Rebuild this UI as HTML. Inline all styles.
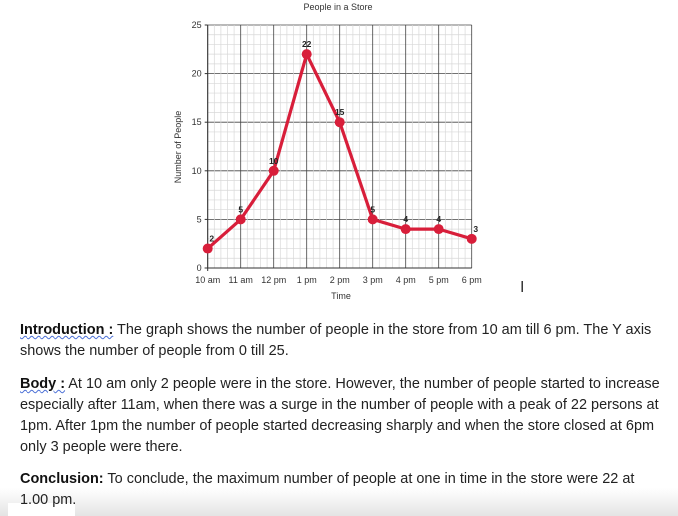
<!DOCTYPE html>
<html><head><meta charset="utf-8"><style>
body{margin:0;width:678px;height:516px;overflow:hidden;background:#fff;position:relative;font-family:"Liberation Sans",sans-serif}
.p{position:absolute;left:20px;font-family:"Liberation Sans",sans-serif;font-size:15px;color:#222;line-height:21px;white-space:nowrap;transform:scaleX(0.965);transform-origin:0 0}
.b{font-weight:bold;color:#111}
.u{text-decoration:underline wavy #4a6fd6;text-decoration-thickness:1px}
</style></head><body>
<svg id="chart" width="678" height="310" style="position:absolute;left:0;top:0"></svg>
<div style="position:absolute;left:520px;top:279px;font-size:16px;color:#333">I</div>
<div class="p" style="top:319px"><span class="b u">Introduction :</span> The graph shows the number of people in the store from 10 am till 6 pm. The Y axis<br>shows the number of people from 0 till 25.</div>
<div class="p" style="top:373px"><span class="b u">Body :</span> At 10 am only 2 people were in the store. However, the number of people started to increase<br>especially after 11am, when there was a surge in the number of people with a peak of 22 persons at<br>1pm. After 1pm the number of people started decreasing sharply and when the store closed at 6pm<br>only 3 people were there.</div>
<div style="position:absolute;left:0;top:488px;width:678px;height:28px;background:linear-gradient(#fff0,#e4e4e4)"></div>
<div style="position:absolute;left:8px;top:503px;width:67px;height:13px;background:#fff"></div>
<div class="p" style="top:468px"><span class="b">Conclusion:</span> To conclude, the maximum number of people at one in time in the store were 22 at<br>1.00 pm.</div>
<script>
const categories=["10 am","11 am","12 pm","1 pm","2 pm","3 pm","4 pm","5 pm","6 pm"];
const values=[2,5,10,22,15,5,4,4,3];
const yTicks=[0,5,10,15,20,25];
const svg=document.getElementById('chart');
const L=207.7,R=471.7,T=25,B=268,yMax=25;
const xs=i=>L+i*(R-L)/(categories.length-1);
const ys=v=>B-v*(B-T)/yMax;
const NS="http://www.w3.org/2000/svg";
function mk(t,a,p){const e=document.createElementNS(NS,t);for(const k in a)e.setAttribute(k,a[k]);(p||svg).appendChild(e);return e;}
let g=mk('g',{});


for(let v=0;v<=yMax;v++){mk('line',{x1:L,x2:R,y1:ys(v),y2:ys(v),stroke:v%5?'#d8d8d8':'#444','stroke-width':v%5?0.7:0.8},g);}
const n=categories.length-1;
for(let i=0;i<=n*5;i++){const x=L+i*(R-L)/(n*5);mk('line',{x1:x,x2:x,y1:T,y2:B,stroke:i%5?'#d8d8d8':'#444','stroke-width':i%5?0.7:0.8},g);}
mk('line',{x1:L,x2:L,y1:T,y2:B+3,stroke:'#333'});
mk('line',{x1:L-3,x2:R,y1:B,y2:B,stroke:'#333'});
yTicks.forEach(v=>{const t=mk('text',{x:L-6,y:ys(v)+3,'font-size':9,'text-anchor':'end',fill:'#333'});t.textContent=v;


mk('line',{x1:L-3,x2:L,y1:ys(v),y2:ys(v),stroke:'#333'});});
categories.forEach((c,i)=>{const t=mk('text',{x:xs(i),y:B+15,'font-size':9,'text-anchor':'middle',fill:'#333'});t.textContent=c;

});
let tt=mk('text',{x:338,y:10,'font-size':9,'text-anchor':'middle',fill:'#333'});tt.textContent='People in a Store';


let xt=mk('text',{x:341,y:299,'font-size':9,'text-anchor':'middle',fill:'#333'});xt.textContent='Time';


let yt=mk('text',{x:0,y:0,'font-size':9,'text-anchor':'middle',fill:'#333',transform:'translate(181,147) rotate(-90)'});yt.textContent='Number of People';


const line=mk('polyline',{points:values.map((v,i)=>xs(i)+','+ys(v)).join(' '),fill:'none',stroke:'#d81e3a','stroke-width':3.2,'stroke-linejoin':'round'});


values.forEach((v,i)=>{const c=mk('circle',{cx:xs(i),cy:ys(v),r:5,fill:'#d81e3a'});


const t=mk('text',{x:xs(i)+(i==0||i==8?4:0),y:ys(v)-7,'font-size':8.5,'font-weight':'bold','text-anchor':'middle',fill:'#222'});t.textContent=v;

});
</script>
</body></html>
